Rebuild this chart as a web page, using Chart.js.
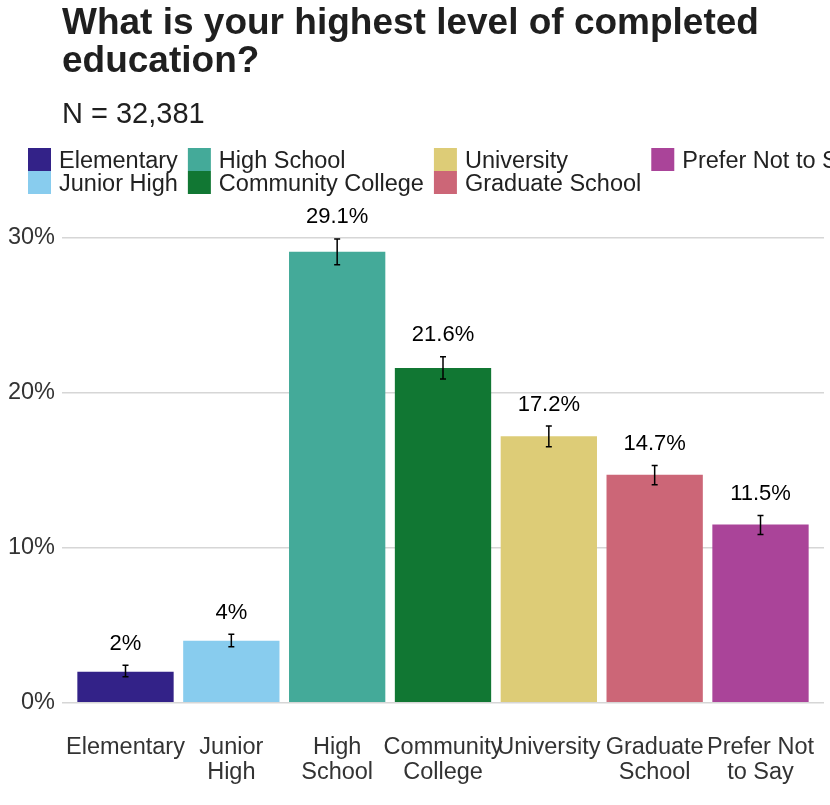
<!DOCTYPE html>
<html>
<head>
<meta charset="utf-8">
<title>Education level</title>
<script src="https://cdn.jsdelivr.net/npm/chart.js@4.4.1/dist/chart.umd.min.js"></script>
<style>
    html, body { margin: 0; padding: 0; background: #ffffff; overflow: hidden; }
    canvas { display: block; }
</style>
</head>
<body>
<canvas id="educationChart" width="830" height="805"></canvas>
<script>
// Data
const categories = ['Elementary', 'Junior High', 'High School', 'Community College', 'University', 'Graduate School', 'Prefer Not to Say'];
const axisLabels = [['Elementary'], ['Junior', 'High'], ['High', 'School'], ['Community', 'College'], ['University'], ['Graduate', 'School'], ['Prefer Not', 'to Say']];
const percentages = [2.0, 4.0, 29.1, 21.6, 17.2, 14.7, 11.5];
const ciLow = [1.68, 3.61, 28.25, 20.88, 16.52, 14.06, 10.86];
const ciHigh = [2.42, 4.42, 29.92, 22.32, 17.85, 15.30, 12.08];
const colors = ['#332288', '#88CCEE', '#44AA99', '#117733', '#DDCC77', '#CC6677', '#AA4499'];
const yTicks = [0, 10, 20, 30];
const titleLines = ['What is your highest level of completed', 'education?'];
const subtitle = 'N = 32,381';

const FONT = '"Liberation Sans", Arial, Helvetica, sans-serif';

function formatPct(v) {
    return (v % 1 === 0 ? String(v) : v.toFixed(1)) + '%';
}

// error bars, value labels, title and the two-row legend
const extras = {
    id: 'extras',
    afterDatasetsDraw(chart) {
        const ctx = chart.ctx;
        const xs = chart.scales.x;
        const ys = chart.scales.y;
        ctx.save();
        percentages.forEach((v, i) => {
            const px = xs.getPixelForValue(i);
            const top = ys.getPixelForValue(ciHigh[i]);
            const bottom = ys.getPixelForValue(ciLow[i]);
            ctx.strokeStyle = '#000000';
            ctx.lineWidth = 1.5;
            ctx.beginPath();
            ctx.moveTo(px, top); ctx.lineTo(px, bottom);
            ctx.moveTo(px - 3, top); ctx.lineTo(px + 3, top);
            ctx.moveTo(px - 3, bottom); ctx.lineTo(px + 3, bottom);
            ctx.stroke();

            ctx.fillStyle = '#000000';
            ctx.font = '22px ' + FONT;
            ctx.textAlign = 'center';
            ctx.textBaseline = 'alphabetic';
            ctx.fillText(formatPct(v), px, top - 15.5);
        });
        ctx.restore();
    },
    afterDraw(chart) {
        const ctx = chart.ctx;
        const left = chart.chartArea.left;
        ctx.save();
        ctx.textAlign = 'left';
        ctx.textBaseline = 'alphabetic';

        ctx.fillStyle = '#1f1f1f';
        ctx.font = 'bold 37px ' + FONT;
        ctx.fillText(titleLines[0], left, 34);
        ctx.fillText(titleLines[1], left, 72);

        ctx.font = '29px ' + FONT;
        ctx.fillText(subtitle, left, 123.3);

        // legend: filled column by column, 2 rows
        ctx.font = '23.5px ' + FONT;
        let colX = 28;
        for (let c = 0; c * 2 < categories.length; c++) {
            let widest = 0;
            for (let r = 0; r < 2; r++) {
                const i = c * 2 + r;
                if (i >= categories.length) break;
                const keyTop = 148 + r * 23;
                ctx.fillStyle = colors[i];
                ctx.fillRect(colX, keyTop, 23, 23);
                ctx.fillStyle = '#222222';
                ctx.fillText(categories[i], colX + 31, keyTop + 20.3);
                widest = Math.max(widest, ctx.measureText(categories[i]).width);
            }
            colX += 31 + widest + 10;
        }
        ctx.restore();
    }
};

const ctx = document.getElementById('educationChart').getContext('2d');
new Chart(ctx, {
    type: 'bar',
    data: {
        datasets: [{
            label: 'Percent',
            data: percentages.map((v, i) => ({ x: i, y: v })),
            backgroundColor: colors,
            borderWidth: 0,
            categoryPercentage: 1.0,
            barPercentage: 0.91
        }]
    },
    options: {
        responsive: false,
        animation: false,
        events: [],
        layout: { padding: { top: 199, right: 6, left: 0, bottom: 0 } },
        plugins: {
            legend: { display: false },
            tooltip: { enabled: false }
        },
        scales: {
            x: {
                type: 'linear',
                offset: false,
                min: -0.6,
                max: 6.6,
                grid: { display: false, offset: false },
                border: { display: false },
                afterBuildTicks: scale => { scale.ticks = categories.map((c, i) => ({ value: i })); },
                afterFit: scale => {
                    scale.height = 102.3;
                    scale.paddingLeft = 0;
                    scale.paddingRight = 0;
                },
                ticks: {
                    autoSkip: false,
                    maxRotation: 0,
                    padding: 24,
                    color: '#333333',
                    font: { family: FONT, size: 23.5, lineHeight: 1.08 },
                    callback: value => axisLabels[value]
                }
            },
            y: {
                min: 0,
                max: 32.5,
                afterBuildTicks: scale => { scale.ticks = yTicks.map(v => ({ value: v })); },
                afterFit: scale => { scale.width = 62; },
                grid: { color: '#d6d6d6', lineWidth: 1.5, drawTicks: false },
                border: { display: false },
                ticks: {
                    padding: 7,
                    color: '#333333',
                    font: { family: FONT, size: 23.5 },
                    callback: value => value + '%'
                }
            }
        }
    },
    plugins: [extras]
});
</script>
</body>
</html>
